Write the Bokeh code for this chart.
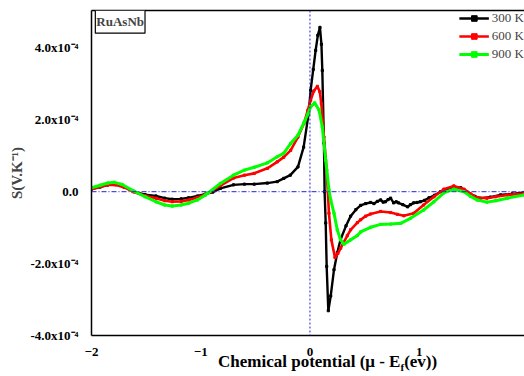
from bokeh.plotting import figure
from bokeh.models import (Span, Label, Legend, LegendItem, FixedTicker, LinearAxis, Range1d, Div)
from bokeh.layouts import column
from bokeh.embed import file_html
from bokeh.resources import INLINE

# Seebeck coefficient S in units of 1e-4 V/K vs chemical potential (eV)
black_x = [-2.00, -1.92, -1.85, -1.78, -1.70, -1.61, -1.51, -1.41, -1.33, -1.26, -1.18, -1.11, -1.03, -0.96,
           -0.89, -0.82, -0.70, -0.60, -0.51, -0.39, -0.30, -0.24, -0.18, -0.11, -0.058, -0.012, 0.006, 0.03,
           0.052, 0.072, 0.0915, 0.105, 0.113, 0.128, 0.134, 0.144, 0.153, 0.168, 0.19, 0.22, 0.25, 0.28, 0.33,
           0.372, 0.42, 0.464, 0.51, 0.555, 0.586, 0.617, 0.647, 0.67, 0.69, 0.715, 0.738, 0.766, 0.79, 0.81,
           0.85, 0.894, 0.92, 0.95, 0.98, 1.01, 1.05, 1.09, 1.14, 1.196, 1.26, 1.315, 1.38, 1.44, 1.51, 1.56,
           1.65, 1.745, 1.85, 1.964]
black_s = [0.07, 0.13, 0.19, 0.20, 0.14, 0.00, -0.08, -0.12, -0.18, -0.21, -0.20, -0.17, -0.12, -0.07,
           -0.01, 0.09, 0.19, 0.21, 0.21, 0.24, 0.28, 0.37, 0.46, 0.69, 1.24, 2.18, 2.82, 3.40,
           3.93, 4.35, 4.57, 4.10, 3.37, 1.35, 0.00, -0.87, -2.08, -3.31, -2.90, -2.17, -1.70, -1.33, -0.95,
           -0.68, -0.50, -0.38, -0.33, -0.30, -0.33, -0.27, -0.23, -0.29, -0.28, -0.22, -0.18, -0.31, -0.28, -0.31,
           -0.36, -0.42, -0.36, -0.31, -0.30, -0.28, -0.24, -0.17, -0.10, 0.00, 0.08, 0.13, 0.11, -0.01, -0.13, -0.18,
           -0.15, -0.09, -0.06, -0.02]

red_x = [-2.00, -1.92, -1.85, -1.78, -1.70, -1.62, -1.51, -1.41, -1.33, -1.26, -1.18, -1.11, -1.03, -0.96,
         -0.91, -0.82, -0.70, -0.60, -0.51, -0.39, -0.30, -0.24, -0.177, -0.11, -0.055, -0.02, 0.006, 0.035,
         0.068, 0.09, 0.104, 0.128, 0.153, 0.174, 0.196, 0.229, 0.255, 0.281, 0.342, 0.372, 0.434, 0.464,
         0.51, 0.555, 0.647, 0.738, 0.80, 0.86, 0.95, 1.04, 1.135, 1.226, 1.317, 1.41, 1.47, 1.53, 1.62,
         1.70, 1.806, 1.964]
red_s = [0.07, 0.14, 0.19, 0.19, 0.12, 0.00, -0.11, -0.18, -0.25, -0.28, -0.27, -0.23, -0.16, -0.08,
         0.00, 0.17, 0.38, 0.46, 0.51, 0.65, 0.83, 0.96, 1.15, 1.52, 1.90, 2.26, 2.54, 2.80,
         2.93, 2.78, 2.45, 1.52, 0.60, -0.60, -1.34, -1.83, -1.72, -1.57, -1.22, -1.06, -0.86, -0.78,
         -0.68, -0.62, -0.55, -0.58, -0.63, -0.67, -0.60, -0.37, -0.14, 0.07, 0.16, 0.07, -0.06, -0.17, -0.18,
         -0.14, -0.09, -0.05]

green_x = [-2.00, -1.92, -1.85, -1.79, -1.72, -1.62, -1.51, -1.41, -1.33, -1.26, -1.18, -1.11, -1.03, -0.96,
           -0.93, -0.82, -0.70, -0.60, -0.51, -0.39, -0.30, -0.24, -0.177, -0.11, -0.055, -0.02, 0.006, 0.043,
           0.083, 0.113, 0.144, 0.174, 0.19, 0.22, 0.25, 0.28, 0.311, 0.372, 0.434, 0.464, 0.555, 0.647, 0.738,
           0.83, 0.92, 1.04, 1.135, 1.226, 1.317, 1.41, 1.47, 1.53, 1.62, 1.70, 1.806, 1.964]
green_s = [0.11, 0.18, 0.24, 0.26, 0.20, 0.03, -0.14, -0.28, -0.37, -0.40, -0.37, -0.32, -0.23, -0.10,
           -0.03, 0.23, 0.46, 0.60, 0.68, 0.80, 0.97, 1.07, 1.34, 1.57, 1.92, 2.15, 2.36, 2.47,
           2.27, 1.80, 0.88, 0.05, -0.23, -0.60, -1.06, -1.34, -1.46, -1.34, -1.22, -1.12, -0.99, -0.91, -0.90,
           -0.88, -0.74, -0.51, -0.28, -0.03, 0.07, 0.00, -0.13, -0.23, -0.29, -0.25, -0.18, -0.09]

series_labels = ["300 K", "600 K", "900 K"]
series_colors = ["#000000", "#ff0000", "#00ff00"]

x_ticks = [-2, -1, 0, 1]
y_ticks = [-4, -2, 0, 2, 4]
y_tick_labels = ["-4.0x10\u207b\u2074", "-2.0x10\u207b\u2074", "0.0", "2.0x10\u207b\u2074", "4.0x10\u207b\u2074"]

FONT = "Liberation Serif"

p = figure(width=524, height=358, output_backend="svg", toolbar_location=None,
           x_range=Range1d(-2.0, 1.964), y_range=Range1d(-4.0, 5.04),
           min_border_left=91, min_border_right=0, min_border_top=10, min_border_bottom=22,
           margin=(0, 0, 0, 0))
p.outline_line_color = None
p.grid.visible = False
p.background_fill_color = "white"
p.border_fill_color = "white"

for ax in (p.xaxis[0], p.yaxis[0]):
    ax.axis_line_color = "black"
    ax.axis_line_width = 1.5
    ax.major_tick_line_color = None
    ax.minor_tick_line_color = None
    ax.major_label_text_font = FONT
    ax.major_label_text_font_style = "bold"
    ax.major_label_text_font_size = "13px"
    ax.major_label_text_color = "black"

p.xaxis.ticker = FixedTicker(ticks=x_ticks)
p.xaxis.major_label_standoff = 6
p.yaxis.ticker = FixedTicker(ticks=y_ticks)
p.yaxis.major_label_overrides = {t: l for t, l in zip(y_ticks, y_tick_labels)}
p.yaxis.major_label_standoff = 7
p.yaxis.axis_label = "S(V.K\u207b\u00b9)"
p.yaxis.axis_label_text_font = FONT
p.yaxis.axis_label_text_font_style = "bold"
p.yaxis.axis_label_text_font_size = "15px"
p.yaxis.axis_label_standoff = 3

top = LinearAxis(axis_line_color="black", axis_line_width=1.5, major_tick_line_color=None,
                 minor_tick_line_color=None, major_label_text_font_size="0px", major_label_standoff=0,
                 ticker=FixedTicker(ticks=[]))
p.add_layout(top, "above")

dash = "5 2 1 2"
p.add_layout(Span(location=0, dimension="width", line_color="#2222dd", line_width=1, line_dash=dash))
p.add_layout(Span(location=0, dimension="height", line_color="#2222dd", line_width=1, line_dash="2 2"))

items = {}
for xs, ys, c, lab, w in [(black_x, black_s, series_colors[0], series_labels[0], 2.4),
                          (red_x, red_s, series_colors[1], series_labels[1], 2.6),
                          (green_x, green_s, series_colors[2], series_labels[2], 3)]:
    r1 = p.line(xs, ys, line_color=c, line_width=w)
    r2 = p.scatter(xs, ys, marker="square", size=2.2, fill_color=c, line_color=c)
    items[lab] = LegendItem(label=lab, renderers=[r1, r2])

legend = Legend(items=[items[l] for l in series_labels], location="top_right", border_line_color=None,
                background_fill_alpha=0, label_text_font=FONT, label_text_font_size="13px",
                glyph_width=30, glyph_height=14, label_height=14, spacing=2, padding=4,
                margin=0, label_standoff=3)
p.add_layout(legend)

p.add_layout(Label(x=-1.965, y=4.73, text="RuAsNb", text_font=FONT, text_font_style="bold",
                   text_font_size="13px", text_baseline="middle", text_align="left",
                   border_line_color="black", border_line_width=1.2, background_fill_color="white",
                   padding=(1, 4)))

x_title = Div(
    text=('<span style="position:relative; top:-5px; font-family:\'Liberation Serif\'; font-weight:bold; '
          'font-size:17px; line-height:17px; white-space:nowrap; color:black;">Chemical potential (&mu; - E'
          '<sub style="font-size:11px; line-height:0;">f</sub>(ev))</span>'),
    width=524, height=18, margin=(0, 0, 0, 0),
    styles={"padding-left": "218px", "line-height": "17px"})

layout = column(p, x_title, spacing=0, margin=(0, 0, 0, 0))
open("out.html", "w").write(file_html(layout, INLINE))
